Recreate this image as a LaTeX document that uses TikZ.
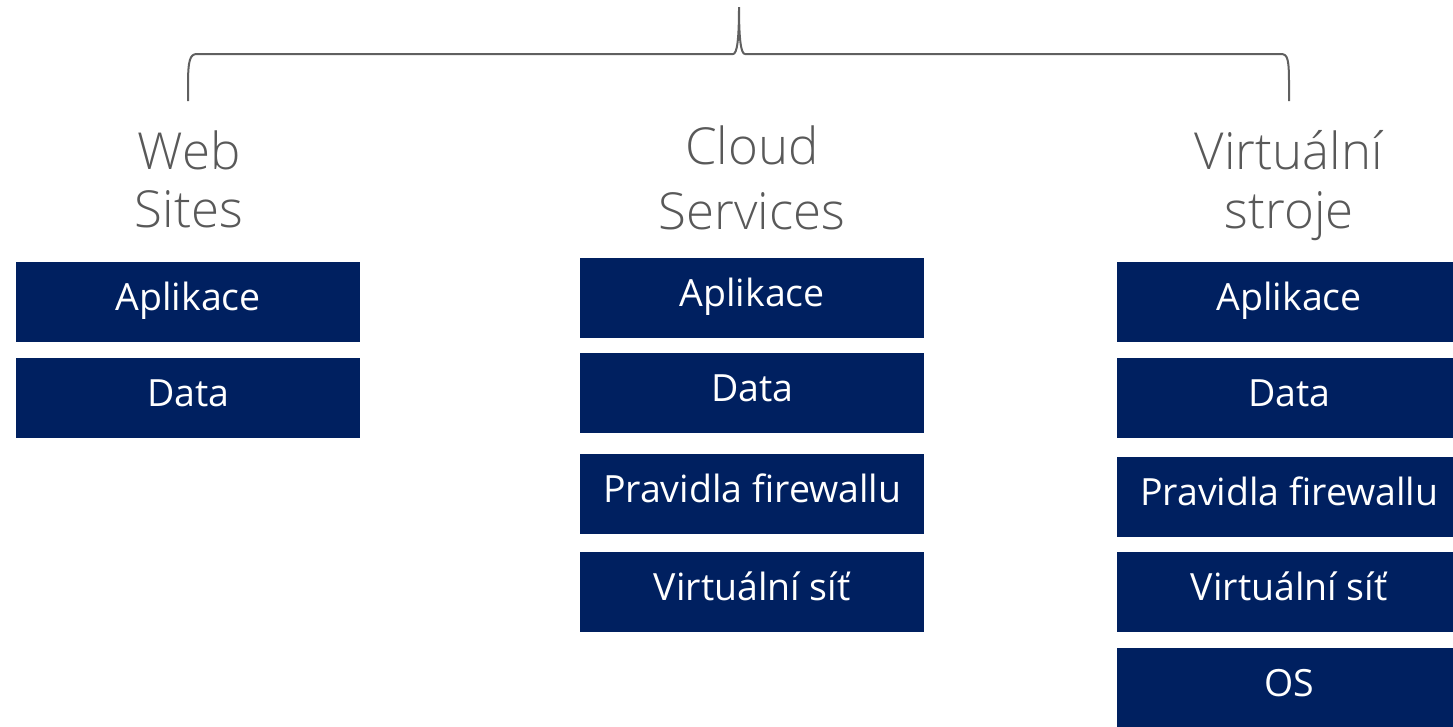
\documentclass[tikz,border=0pt]{standalone}
\usepackage{fontspec}
\setmainfont{Open Sans}
\IfFontExistsTF{Open Sans Light}{\newfontfamily\lightfont{Open Sans Light}}{\newfontfamily\lightfont{Open Sans}}
\definecolor{navy}{HTML}{002060}
\definecolor{hgray}{HTML}{595959}
\definecolor{lgray}{HTML}{606060}
\begin{document}
\begin{tikzpicture}[x=1pt,y=-1pt,
  blk/.style={fill=navy, text=white, minimum width=344pt, minimum height=80pt, inner sep=0pt,
    font=\fontsize{37.5}{45}\selectfont, text height=30pt, text depth=14pt, anchor=north west},
  hdr/.style={text=hgray, align=center, font=\lightfont\fontsize{51}{58}\selectfont, inner sep=0pt, anchor=base},
  brace/.style={draw=lgray, line width=2pt}]
\useasboundingbox (0,0) rectangle (1453,726);
% brace
\coordinate (bl) at (188,101);
\coordinate (br) at (1289,101);
\coordinate (bt) at (739,7);
\draw[brace] (bl) -- (188,85) .. controls (188,60) and (190,54) .. (197,54) -- (733,54)
  .. controls (737,54) and (739,40) .. (bt) .. controls (739,40) and (741,54) .. (745,54)
  -- (1281,54) .. controls (1288,54) and (1289,60) .. (1289,85) -- (br);
% headers (anchor base = baseline of the last line)
\node[hdr] (hw) at (189,227) {Web\\Sites};
\node[hdr, font=\lightfont\fontsize{51}{65}\selectfont] (hc) at (752,229) {Cloud\\Services};
\node[hdr, font=\lightfont\fontsize{51}{59}\selectfont] (hv) at (1289,228) {Virtuální\\stroje};
% left column
\node[blk] (w1) at (16,262) {Aplikace};
\node[blk] (w2) at (16,358) {Data};
% middle column
\node[blk] (c1) at (580,258) {Aplikace};
\node[blk] (c2) at (580,353) {Data};
\node[blk] (c3) at (580,454) {Pravidla firewallu};
\node[blk] (c4) at (580,552) {Virtuální síť};
% right column
\node[blk] (r1) at (1117,262) {Aplikace};
\node[blk] (r2) at (1117,358) {Data};
\node[blk] (r3) at (1117,457) {Pravidla firewallu};
\node[blk] (r4) at (1117,552) {Virtuální síť};
\node[blk] (r5) at (1117,648) {OS};
\end{tikzpicture}
\end{document}
